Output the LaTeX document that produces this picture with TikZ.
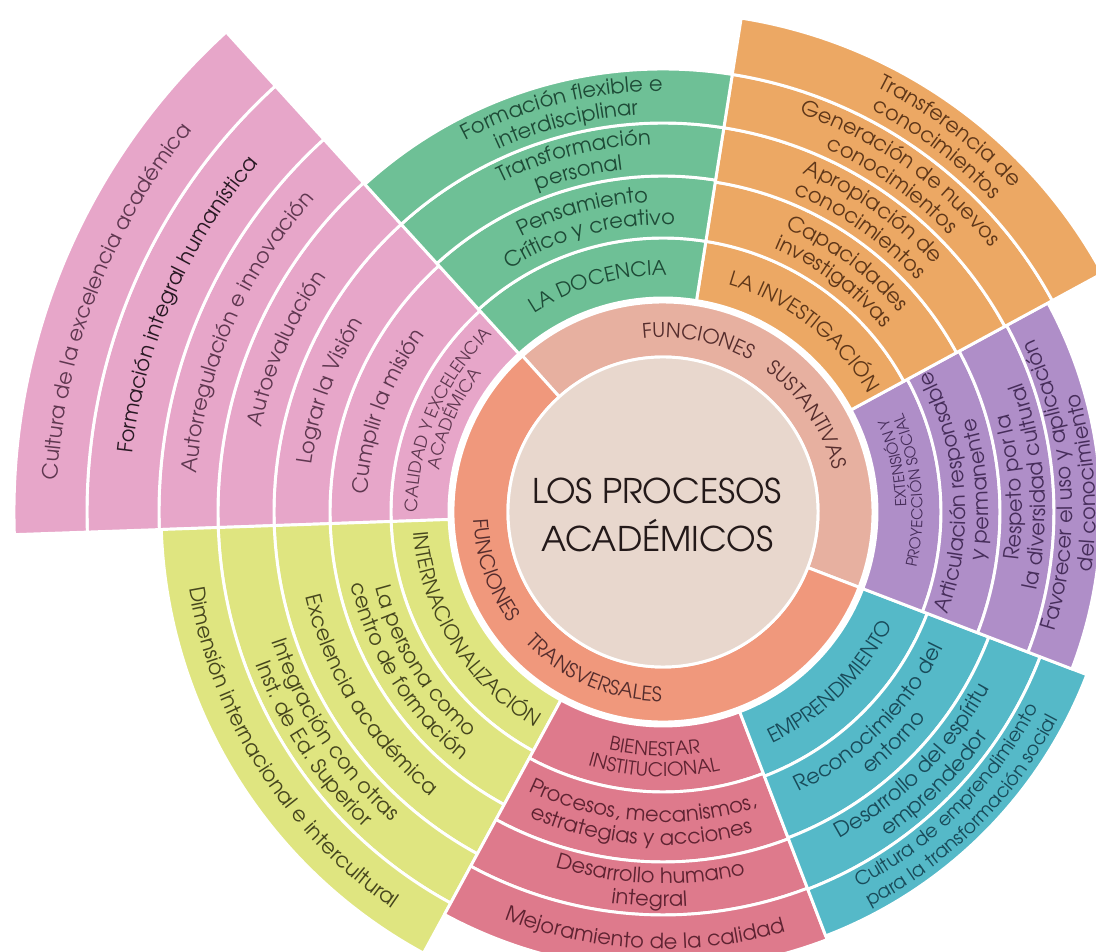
\documentclass[tikz,border=0pt]{standalone}
\usepackage{fontspec}
\setmainfont{TeX Gyre Adventor}
\usetikzlibrary{decorations.text}

\definecolor{pinkc}{RGB}{231,166,201}
\definecolor{greenc}{RGB}{110,192,150}
\definecolor{orangec}{RGB}{236,168,100}
\definecolor{purplec}{RGB}{175,142,200}
\definecolor{cyanc}{RGB}{85,185,200}
\definecolor{redc}{RGB}{222,122,140}
\definecolor{yellowc}{RGB}{223,229,128}
\definecolor{sustc}{RGB}{231,176,160}
\definecolor{transc}{RGB}{240,152,124}
\definecolor{innerc}{RGB}{232,215,205}
\definecolor{pinkt}{RGB}{95,55,80}
\definecolor{pinkdark}{RGB}{40,25,35}
\definecolor{greent}{RGB}{30,75,55}
\definecolor{oranget}{RGB}{95,55,25}
\definecolor{purplet}{RGB}{70,45,90}
\definecolor{cyant}{RGB}{25,75,90}
\definecolor{redt}{RGB}{95,35,50}
\definecolor{yellowt}{RGB}{70,70,30}
\definecolor{ringt}{RGB}{85,45,45}
\definecolor{centret}{RGB}{35,25,25}

\newcommand{\fbody}{\fontsize{15.75}{17}\selectfont}
\newcommand{\fcaps}{\fontsize{15}{17}\selectfont}
\newcommand{\fcapsb}{\fontsize{14.25}{16}\selectfont}
\newcommand{\fmid}{\fontsize{14.25}{16}\selectfont}
\newcommand{\fsmall}{\fontsize{12.75}{14}\selectfont}
\newcommand{\ftiny}{\fontsize{11.25}{13}\selectfont}

\tikzset{every picture/.style={line width=0.75pt}}
\tikzset{segline/.style={draw=white, line width=2.2pt, line join=round}}

% ring piece: colour, from angle, to angle, inner radius, outer radius
\newcommand{\seg}[5]{%
  \filldraw[fill=#1, segline] (#2:#4) arc[start angle=#2, end angle=#3, radius=#4] -- (#3:#5) arc[start angle=#3, end angle=#2, radius=#5] -- cycle;}
% curved labels: radius, centre angle, font, colour, text
\newcommand{\cwtext}[5]{%
  \pgfmathsetmacro{\angA}{#2+60}\pgfmathsetmacro{\angB}{#2-60}%
  \path[decorate, decoration={text along path, text align=center, text={|#3\color{#4}|#5}}] (\angA:#1) arc[start angle=\angA, end angle=\angB, radius=#1];}
\newcommand{\ccwtext}[5]{%
  \pgfmathsetmacro{\angA}{#2-60}\pgfmathsetmacro{\angB}{#2+60}%
  \path[decorate, decoration={text along path, text align=center, text={|#3\color{#4}|#5}}] (\angA:#1) arc[start angle=\angA, end angle=\angB, radius=#1];}

\begin{document}
\begin{tikzpicture}[x=0.75pt,y=0.75pt]
\useasboundingbox (-663,-440) rectangle (433,512);

%Shape: Calidad sector
\foreach \ra/\rb in {214/272,272/333,333/389,389/445,445/504,504/576,576/649}
  {\seg{pinkc}{132.3}{182}{\ra}{\rb}}
%Shape: Internacionalizacion sector
\foreach \ra/\rb in {214/272,272/333,333/389,389/445,445/502}
  {\seg{yellowc}{182}{241.5}{\ra}{\rb}}
%Shape: Bienestar sector
\foreach \ra/\rb in {214/280,280/350,350/403,403/458}
  {\seg{redc}{241.5}{291}{\ra}{\rb}}
%Shape: Emprendimiento sector
\foreach \ra/\rb in {214/283,283/349,349/404,404/454}
  {\seg{cyanc}{291}{339}{\ra}{\rb}}
%Shape: Extension sector
\foreach \ra/\rb in {214/278,278/337,337/391,391/438}
  {\seg{purplec}{-21}{28.5}{\ra}{\rb}}
%Shape: Investigacion sector
\foreach \ra/\rb in {214/274,274/334,334/389,389/443,443/500}
  {\seg{orangec}{28.5}{81}{\ra}{\rb}}
%Shape: Docencia sector
\foreach \ra/\rb in {214/274,274/336,336/389,389/443}
  {\seg{greenc}{81}{132.3}{\ra}{\rb}}

%Shape: Funciones ring
\seg{sustc}{-21}{132}{155}{210}
\seg{transc}{132}{339}{155}{210}
%Shape: Circle
\filldraw[fill=innerc, segline] (0,0) circle[radius=155];

% Text Node
\node[align=center, text=centret, font=\fontsize{25.5}{36}\selectfont] (titulo) at (-6,-3) {LOS PROCESOS\\ACADÉMICOS};

% ring labels
\cwtext{174.6}{78.4}{\fcaps}{ringt}{FUNCIONES}
\cwtext{174.6}{34}{\fcaps}{ringt}{SUSTANTIVAS}
\ccwtext{189.4}{199}{\fcaps}{ringt}{FUNCIONES}
\ccwtext{189.4}{246.6}{\fcaps}{ringt}{TRANSVERSALES}

% calidad
\cwtext{245.7}{157}{\fsmall}{pinkt}{CALIDAD Y EXCELENCIA}
\cwtext{227.7}{156}{\fsmall}{pinkt}{ACADÉMICA}
\cwtext{296}{160}{\fbody}{pinkt}{Cumplir la misión}
\cwtext{354.5}{160}{\fbody}{pinkt}{Lograr la Visión}
\cwtext{410.5}{156.6}{\fbody}{pinkt}{Autoevaluación}
\cwtext{468}{156.7}{\fbody}{pinkt}{Autorregulación e innovación}
\cwtext{533.5}{156.5}{\fbody}{pinkdark}{Formación integral humanística}
\cwtext{606}{159}{\fbody}{pinkt}{Cultura de la excelencia académica}

% docencia
\cwtext{236.6}{106}{\fcaps}{greent}{LA DOCENCIA}
\cwtext{310}{105}{\fbody}{greent}{Pensamiento}
\cwtext{287}{105}{\fbody}{greent}{Crítico y creativo}
\cwtext{367.5}{104}{\fbody}{greent}{Transformación}
\cwtext{344.5}{104}{\fbody}{greent}{personal}
\cwtext{421}{104}{\fbody}{greent}{Formación flexible e}
\cwtext{398}{104}{\fbody}{greent}{interdisciplinar}

% investigacion
\cwtext{236.6}{52}{\fcaps}{oranget}{LA INVESTIGACIÓN}
\cwtext{309}{53.5}{\fbody}{oranget}{Capacidades}
\cwtext{286}{53.5}{\fbody}{oranget}{investigativas}
\cwtext{366.5}{55}{\fbody}{oranget}{Apropiación de}
\cwtext{343.5}{55}{\fbody}{oranget}{conocimientos}
\cwtext{421}{55}{\fbody}{oranget}{Generación de nuevos}
\cwtext{398}{55}{\fbody}{oranget}{conocimientos}
\cwtext{476}{53}{\fbody}{oranget}{Transferencia de}
\cwtext{453}{53}{\fbody}{oranget}{conocimientos}

% extension
\ccwtext{243.5}{12}{\ftiny}{purplet}{EXTENSIÓN Y}
\ccwtext{259.5}{5}{\ftiny}{purplet}{PROYECCIÓN SOCIAL}
\ccwtext{302.5}{4}{\fbody}{purplet}{Articulación responsable}
\ccwtext{325.5}{4}{\fbody}{purplet}{y permanente}
\ccwtext{359}{4}{\fbody}{purplet}{Respeto por la}
\ccwtext{382}{4}{\fbody}{purplet}{la diversidad cultural}
\ccwtext{409.5}{4}{\fbody}{purplet}{Favorecer el uso y aplicación}
\ccwtext{432.5}{4}{\fbody}{purplet}{del conocimiento}

% emprendimiento
\ccwtext{255.9}{-45.5}{\fcaps}{cyant}{EMPRENDIMIENTO}
\ccwtext{311}{-45}{\fbody}{cyant}{Reconocimiento del}
\ccwtext{334}{-45}{\fbody}{cyant}{entorno}
\ccwtext{371.5}{-45}{\fbody}{cyant}{Desarrollo del espíritu}
\ccwtext{394.5}{-45}{\fbody}{cyant}{emprendedor}
\ccwtext{423.5}{-45}{\fmid}{cyant}{Cultura de emprendimiento}
\ccwtext{446}{-45}{\fmid}{cyant}{para la transformación social}

% bienestar
\ccwtext{244}{-92}{\fcapsb}{redt}{BIENESTAR}
\ccwtext{264.5}{-92}{\fcapsb}{redt}{INSTITUCIONAL}
\ccwtext{310}{-94}{\fbody}{redt}{Procesos, mecanismos,}
\ccwtext{333}{-94}{\fbody}{redt}{estrategias y acciones}
\ccwtext{371.5}{-92}{\fbody}{redt}{Desarrollo humano}
\ccwtext{394.5}{-92}{\fbody}{redt}{integral}
\ccwtext{437}{-92.5}{\fbody}{redt}{Mejoramiento de la calidad}

% internacionalizacion
\ccwtext{250.4}{212}{\fcaps}{yellowt}{INTERNACIONALIZACIÓN}
\ccwtext{297.5}{212}{\fbody}{yellowt}{La persona como}
\ccwtext{320.5}{212}{\fbody}{yellowt}{centro de formación}
\ccwtext{367.5}{212}{\fbody}{yellowt}{Excelencia académica}
\ccwtext{412}{213.5}{\fbody}{yellowt}{Integración con otras}
\ccwtext{435}{213.5}{\fbody}{yellowt}{Inst. de Ed. Superior}
\ccwtext{480}{212.4}{\fbody}{yellowt}{Dimensión internacional e intercultural}

\end{tikzpicture}
\end{document}
